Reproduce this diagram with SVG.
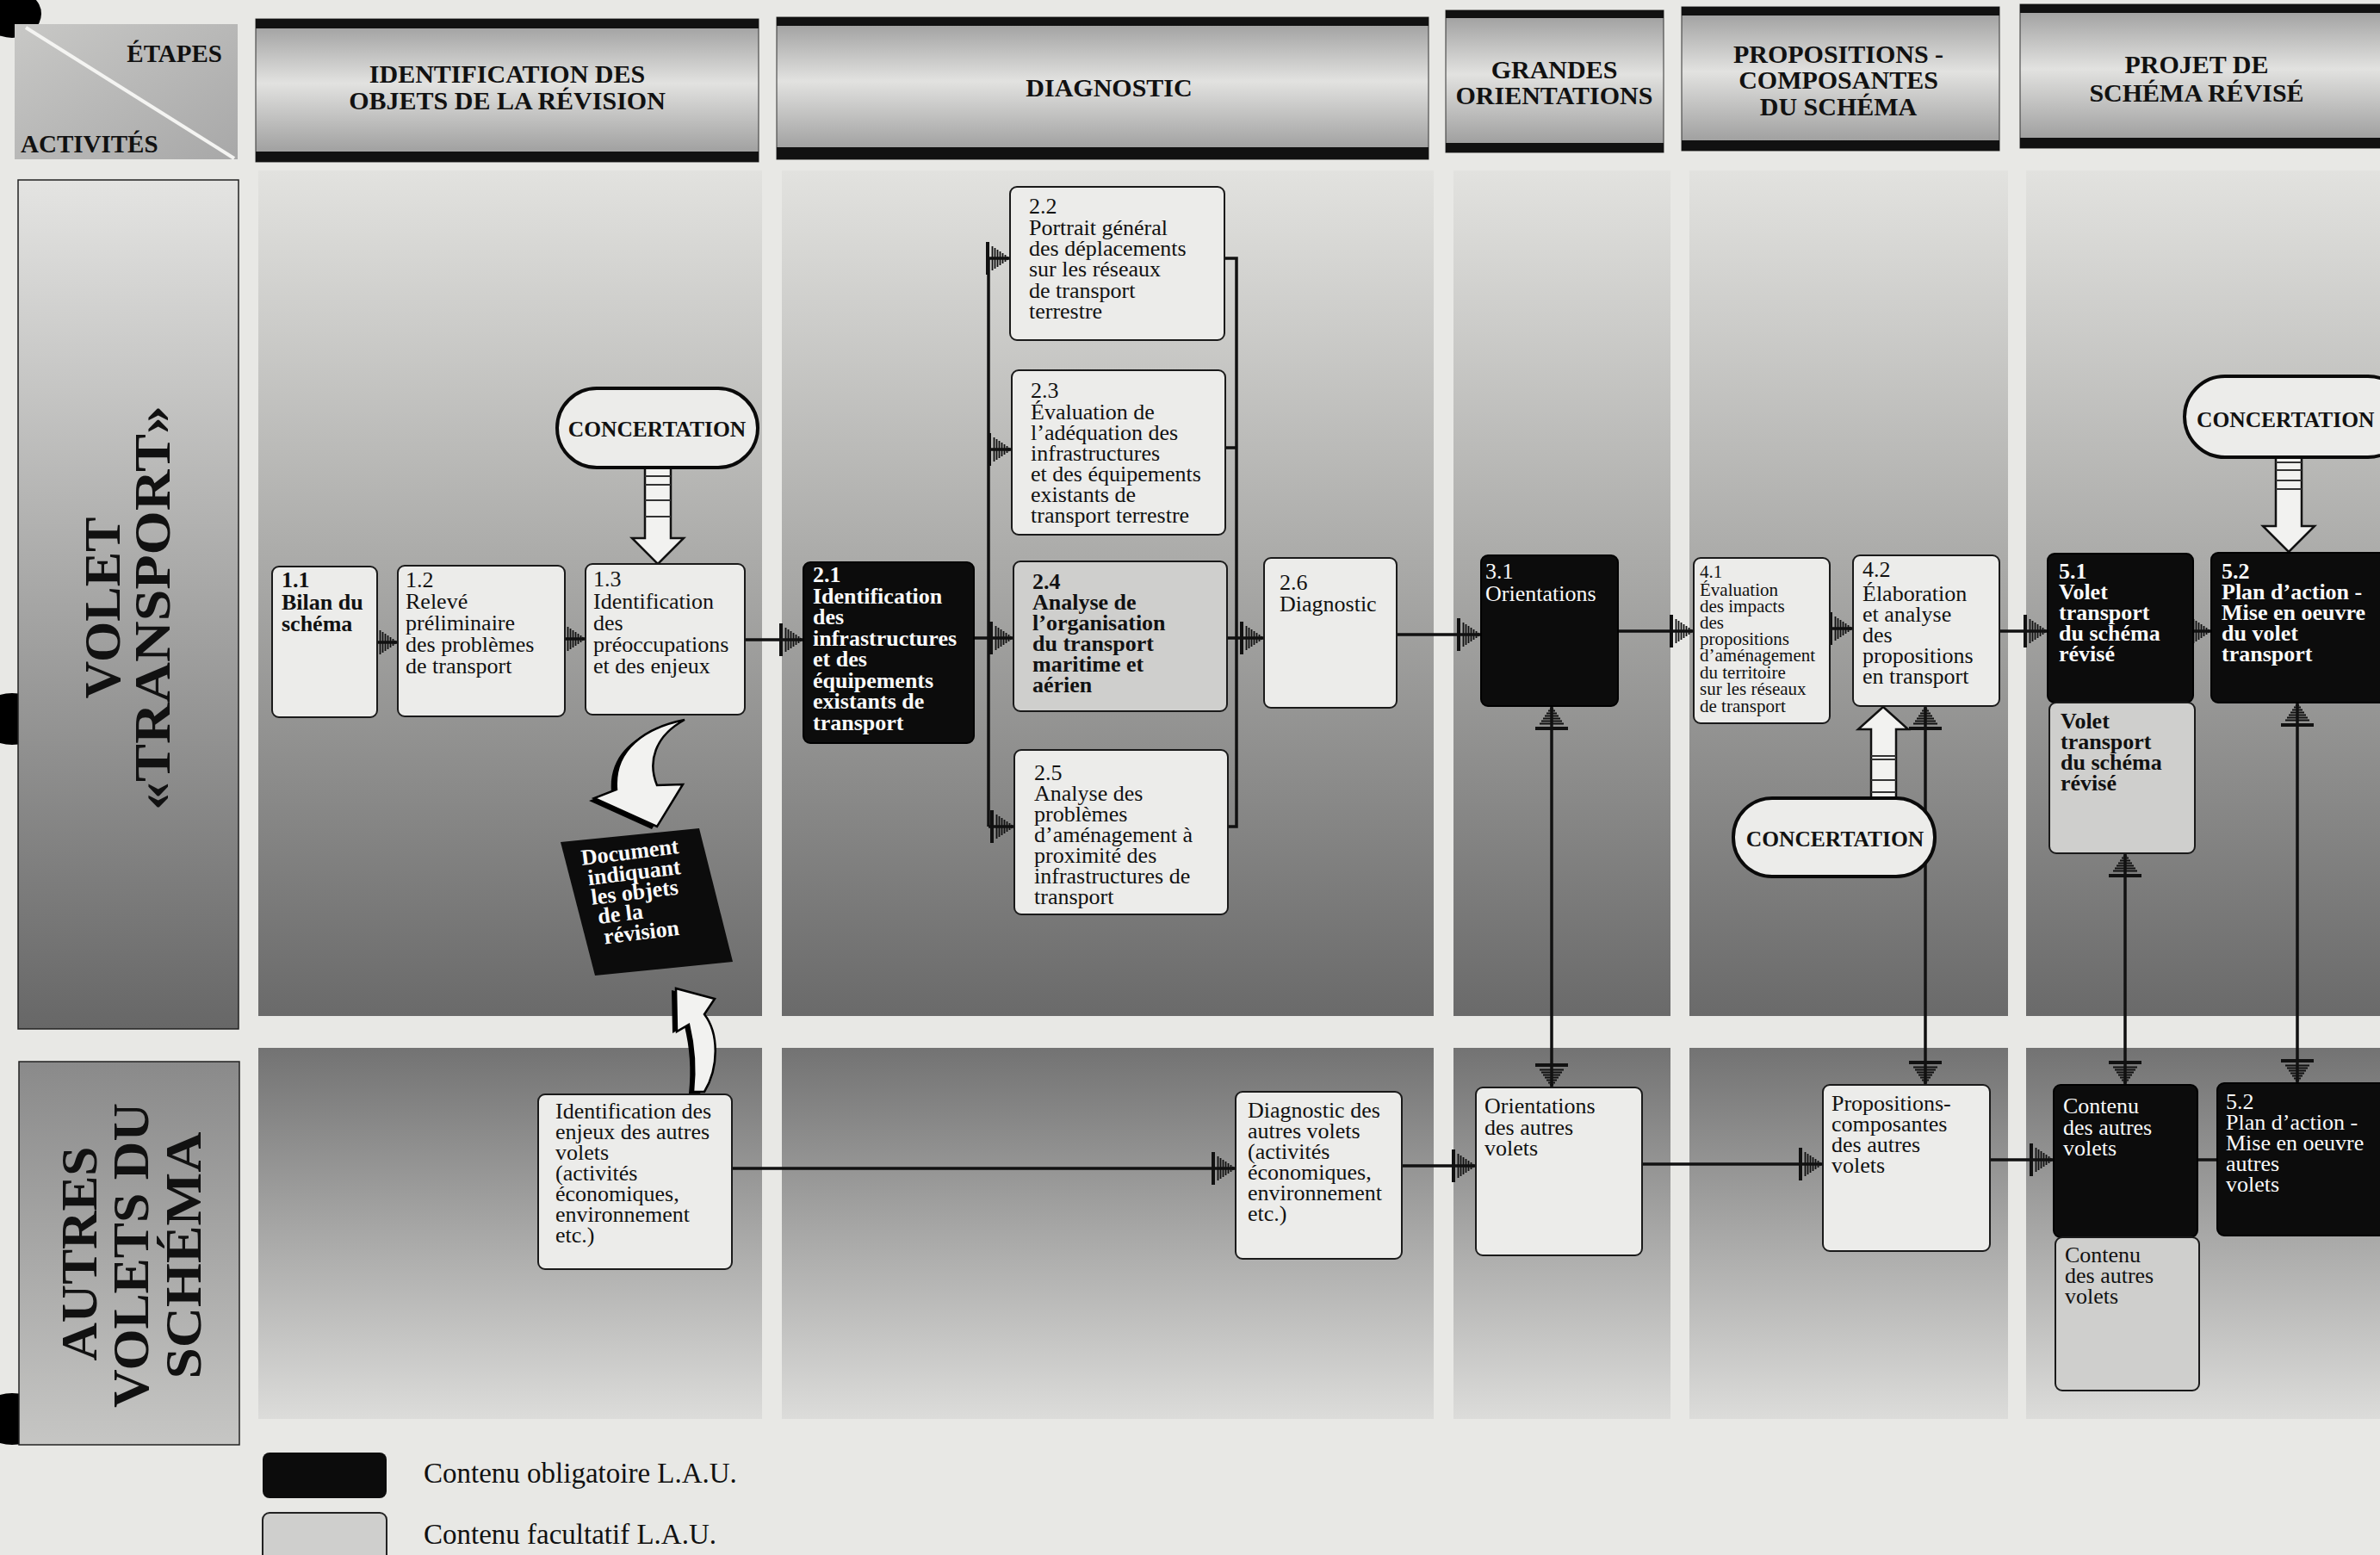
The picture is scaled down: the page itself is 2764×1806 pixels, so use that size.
<svg xmlns="http://www.w3.org/2000/svg" width="2764" height="1806" viewBox="0 0 2764 1806">
<style>
text{font-family:'Liberation Serif','Times New Roman',serif;fill:#111}
.box{fill:#ececea;stroke:#1a1a1a;stroke-width:2}
.fac{fill:#cfcfcd;stroke:#1a1a1a;stroke-width:2}
.blk{fill:#0c0c0c;stroke:#000;stroke-width:2}
.t{font-size:26px}
.s{font-size:21px}
.b{font-weight:bold}
.w{fill:#fafafa}
.hd{font-size:30px;font-weight:bold;text-anchor:middle}
.lab{font-size:60px;font-weight:bold;text-anchor:middle}
.conn{fill:none;stroke:#111;stroke-width:3.5}
.arr{marker-end:url(#m)}
.both{marker-start:url(#m);marker-end:url(#m)}
.pill{fill:#ececea;stroke:#0a0a0a;stroke-width:4}
.ct{font-size:25.5px;font-weight:bold}
.blka{fill:#f2f2f0;stroke:#111;stroke-width:2.5}
.stripe{stroke:#333;stroke-width:2}
.bar{fill:#111}
</style>
<defs>
<linearGradient id="gHdr" x1="0" y1="0" x2="0" y2="1">
<stop offset="0" stop-color="#9a9a9a"/>
<stop offset="0.45" stop-color="#e2e2e0"/>
<stop offset="1" stop-color="#979797"/>
</linearGradient>
<linearGradient id="gTop" x1="0" y1="0" x2="0" y2="1">
<stop offset="0" stop-color="#e2e2df"/>
<stop offset="0.45" stop-color="#acacaa"/>
<stop offset="1" stop-color="#6a6a6a"/>
</linearGradient>
<linearGradient id="gBot" x1="0" y1="0" x2="0" y2="1">
<stop offset="0" stop-color="#737373"/>
<stop offset="1" stop-color="#dcdcda"/>
</linearGradient>
<linearGradient id="gLab1" x1="0" y1="0" x2="0" y2="1">
<stop offset="0" stop-color="#e4e4e2"/>
<stop offset="1" stop-color="#676767"/>
</linearGradient>
<linearGradient id="gLab2" x1="0" y1="0" x2="0" y2="1">
<stop offset="0" stop-color="#8a8a8a"/>
<stop offset="1" stop-color="#c6c6c4"/>
</linearGradient>
<linearGradient id="gEt" x1="0" y1="0" x2="1" y2="1">
<stop offset="0" stop-color="#c8c8c6"/>
<stop offset="1" stop-color="#a8a8a8"/>
</linearGradient>
<marker id="m" viewBox="0 0 28 38" refX="28" refY="19" markerWidth="28" markerHeight="38" markerUnits="userSpaceOnUse" orient="auto-start-reverse">
<rect x="0" y="0" width="4" height="38" fill="#111"/>
<path d="M7.5 5V33M10.5 7V31M13.5 9V29M16.5 11V27M19.5 13V25M22.5 15V23" stroke="#111" stroke-width="1.8"/>
<path d="M24 16.5L28 19L24 21.5Z" fill="#111"/>
</marker>
</defs>

<rect x="0" y="0" width="2764" height="1806" fill="#e8e8e5"/>

<!-- binder holes -->
<g id="holes" fill="#000">
<ellipse cx="14" cy="16" rx="34" ry="28"/>
<ellipse cx="14" cy="835" rx="40" ry="30"/>
<ellipse cx="14" cy="1648" rx="40" ry="30"/>
</g>

<!-- lanes -->
<g id="lanes">
<rect x="300" y="198" width="585" height="982" fill="url(#gTop)"/>
<rect x="908" y="198" width="757" height="982" fill="url(#gTop)"/>
<rect x="1688" y="198" width="252" height="982" fill="url(#gTop)"/>
<rect x="1962" y="198" width="370" height="982" fill="url(#gTop)"/>
<rect x="2353" y="198" width="420" height="982" fill="url(#gTop)"/>
<rect x="300" y="1217" width="585" height="431" fill="url(#gBot)"/>
<rect x="908" y="1217" width="757" height="431" fill="url(#gBot)"/>
<rect x="1688" y="1217" width="252" height="431" fill="url(#gBot)"/>
<rect x="1962" y="1217" width="370" height="431" fill="url(#gBot)"/>
<rect x="2353" y="1217" width="420" height="431" fill="url(#gBot)"/>
</g>

<!-- headers -->
<g id="hdr-etapes">
<rect x="17" y="28" width="259" height="157" fill="url(#gEt)"/>
<line x1="30" y1="32" x2="272" y2="184" stroke="#f4f4f2" stroke-width="4"/>
<text x="258" y="72" font-size="29" font-weight="bold" text-anchor="end">ÉTAPES</text>
<text x="24" y="177" font-size="29" font-weight="bold">ACTIVITÉS</text>
</g>
<g id="hdr-1">
<rect x="297" y="22" width="584" height="166" fill="url(#gHdr)" stroke="#333" stroke-width="1"/>
<rect x="297" y="22" width="584" height="11" class="bar"/>
<rect x="297" y="176" width="584" height="12" class="bar"/>
<text class="hd" x="589" y="96">IDENTIFICATION DES</text>
<text class="hd" x="589" y="127">OBJETS DE LA RÉVISION</text>
</g>
<g id="hdr-2">
<rect x="902" y="20" width="757" height="165" fill="url(#gHdr)" stroke="#333" stroke-width="1"/>
<rect x="902" y="20" width="757" height="10" class="bar"/>
<rect x="902" y="171" width="757" height="14" class="bar"/>
<text class="hd" x="1288" y="112">DIAGNOSTIC</text>
</g>
<g id="hdr-3">
<rect x="1679" y="12" width="253" height="165" fill="url(#gHdr)" stroke="#333" stroke-width="1"/>
<rect x="1679" y="12" width="253" height="9" class="bar"/>
<rect x="1679" y="166" width="253" height="11" class="bar"/>
<text class="hd" x="1805" y="91">GRANDES</text>
<text class="hd" x="1805" y="121">ORIENTATIONS</text>
</g>
<g id="hdr-4">
<rect x="1953" y="8" width="369" height="167" fill="url(#gHdr)" stroke="#333" stroke-width="1"/>
<rect x="1953" y="8" width="369" height="10" class="bar"/>
<rect x="1953" y="163" width="369" height="12" class="bar"/>
<text class="hd" x="2135" y="73">PROPOSITIONS -</text>
<text class="hd" x="2135" y="103">COMPOSANTES</text>
<text class="hd" x="2135" y="134">DU SCHÉMA</text>
</g>
<g id="hdr-5">
<rect x="2346" y="5" width="430" height="167" fill="url(#gHdr)" stroke="#333" stroke-width="1"/>
<rect x="2346" y="5" width="430" height="10" class="bar"/>
<rect x="2346" y="160" width="430" height="12" class="bar"/>
<text class="hd" x="2551" y="85">PROJET DE</text>
<text class="hd" x="2551" y="118">SCHÉMA RÉVISÉ</text>
</g>

<!-- row labels -->
<g id="lab-transport">
<rect x="21" y="209" width="256" height="986" fill="url(#gLab1)" stroke="#222" stroke-width="1.5"/>
<text class="lab" transform="translate(139 706) rotate(-90)" x="0" y="0" textLength="211" lengthAdjust="spacingAndGlyphs">VOLET</text>
<text class="lab" transform="translate(197 706) rotate(-90)" x="0" y="0" textLength="470" lengthAdjust="spacingAndGlyphs">«TRANSPORT»</text>
</g>
<g id="lab-autres">
<rect x="22" y="1233" width="256" height="445" fill="url(#gLab2)" stroke="#222" stroke-width="1.5"/>
<text class="lab" transform="translate(112 1456) rotate(-90)" x="0" y="0" textLength="249" lengthAdjust="spacingAndGlyphs">AUTRES</text>
<text class="lab" transform="translate(172 1458) rotate(-90)" x="0" y="0" textLength="354" lengthAdjust="spacingAndGlyphs">VOLETS DU</text>
<text class="lab" transform="translate(233 1458) rotate(-90)" x="0" y="0" textLength="287" lengthAdjust="spacingAndGlyphs">SCHÉMA</text>
</g>

<!-- connectors -->
<g id="connectors">
<path class="conn arr" d="M438 746H462"/>
<path class="conn arr" d="M656 742H680"/>
<path class="conn arr" d="M865 743H933"/>
<path class="conn arr" d="M1131 741H1177"/>
<path class="conn" d="M1148 300V960"/>
<path class="conn arr" d="M1148 300H1173"/>
<path class="conn arr" d="M1148 522H1175"/>
<path class="conn arr" d="M1148 960H1178"/>
<path class="conn" d="M1422 300H1436V960H1426"/>
<path class="conn" d="M1423 520H1436"/>
<path class="conn arr" d="M1425 741H1468"/>
<path class="conn arr" d="M1622 737H1720"/>
<path class="conn arr" d="M1879 733H1967"/>
<path class="conn arr" d="M2125 730H2152"/>
<path class="conn arr" d="M2322 733H2378"/>
<path class="conn arr" d="M2547 733H2568"/>
<path class="conn both" d="M1802 1263V820"/>
<path class="conn both" d="M2236 1260V820"/>
<path class="conn both" d="M2468 1260V991"/>
<path class="conn both" d="M2668 1258V816"/>
<path class="conn arr" d="M850 1357H1435"/>
<path class="conn arr" d="M1628 1354H1714"/>
<path class="conn arr" d="M1907 1352H2117"/>
<path class="conn arr" d="M2311 1347H2385"/>
<path class="conn" d="M2552 1347H2575"/>
<!-- concertation block arrows -->
<g id="arrow-c1">
<path class="blka" d="M749 541H779V625H794L764 655L734 625H749Z"/>
<path class="stripe" d="M749 553H779M749 563H779M749 581H779M749 600H779"/>
</g>
<g id="arrow-c2">
<path class="blka" d="M2173 929H2202V847H2216L2187 821L2158 847H2173Z"/>
<path class="stripe" d="M2173 878H2202M2173 882H2202M2173 906H2202M2173 920H2202"/>
</g>
<g id="arrow-c3">
<path class="blka" d="M2643 529H2673V611H2688L2658 641L2628 611H2643Z"/>
<path class="stripe" d="M2643 537H2673M2643 546H2673M2643 558H2673M2643 568H2673"/>
</g>
<!-- curved arrows to document -->
<g id="arrow-doc-down">
<path d="M795 836C750 845 712 870 716 917L690 927L763 960L793 911L763 912C752 885 760 855 795 836Z" fill="#000" transform="translate(-6 3)"/>
<path d="M795 836C750 845 712 870 716 917L690 927L763 960L793 911L763 912C752 885 760 855 795 836Z" fill="#f2f2f0" stroke="#000" stroke-width="2.5"/>
</g>
<g id="arrow-doc-up">
<path d="M805 1268C808 1240 806 1215 800 1190L786 1198L785 1148L830 1160L818 1178C835 1200 835 1240 818 1268Z" fill="#000" transform="translate(-5 2)"/>
<path d="M805 1268C808 1240 806 1215 800 1190L786 1198L785 1148L830 1160L818 1178C835 1200 835 1240 818 1268Z" fill="#f2f2f0" stroke="#000" stroke-width="2.5"/>
</g>
</g>

<!-- nodes: row 1 -->
<g id="n1-1"><rect class="box" x="316" y="658" width="122" height="175" rx="8"/>
<text class="t b"><tspan x="327" y="682">1.1</tspan><tspan x="327" y="708">Bilan du</tspan><tspan x="327" y="733">schéma</tspan></text></g>
<g id="n1-2"><rect class="box" x="462" y="657" width="194" height="175" rx="8"/>
<text class="t"><tspan x="471" y="682">1.2</tspan><tspan x="471" y="707">Relevé</tspan><tspan x="471" y="732">préliminaire</tspan><tspan x="471" y="757">des problèmes</tspan><tspan x="471" y="782">de transport</tspan></text></g>
<g id="n1-3"><rect class="box" x="680" y="655" width="185" height="175" rx="8"/>
<text class="t"><tspan x="689" y="681">1.3</tspan><tspan x="689" y="707">Identification</tspan><tspan x="689" y="732">des</tspan><tspan x="689" y="757">préoccupations</tspan><tspan x="689" y="782">et des enjeux</tspan></text></g>
<g id="n2-1"><rect class="blk" x="933" y="653" width="198" height="210" rx="8"/>
<text class="t b w"><tspan x="944" y="676">2.1</tspan><tspan x="944" y="701">Identification</tspan><tspan x="944" y="725">des</tspan><tspan x="944" y="750">infrastructures</tspan><tspan x="944" y="774">et des</tspan><tspan x="944" y="799">équipements</tspan><tspan x="944" y="823">existants de</tspan><tspan x="944" y="848">transport</tspan></text></g>
<g id="n2-2"><rect class="box" x="1173" y="217" width="249" height="178" rx="8"/>
<text class="t"><tspan x="1195" y="248">2.2</tspan><tspan x="1195" y="273">Portrait général</tspan><tspan x="1195" y="297">des déplacements</tspan><tspan x="1195" y="321">sur les réseaux</tspan><tspan x="1195" y="346">de transport</tspan><tspan x="1195" y="370">terrestre</tspan></text></g>
<g id="n2-3"><rect class="box" x="1175" y="430" width="248" height="191" rx="8"/>
<text class="t"><tspan x="1197" y="462">2.3</tspan><tspan x="1197" y="487">Évaluation de</tspan><tspan x="1197" y="511">l’adéquation des</tspan><tspan x="1197" y="535">infrastructures</tspan><tspan x="1197" y="559">et des équipements</tspan><tspan x="1197" y="583">existants de</tspan><tspan x="1197" y="607">transport terrestre</tspan></text></g>
<g id="n2-4"><rect class="fac" x="1177" y="652" width="248" height="174" rx="8"/>
<text class="t b"><tspan x="1199" y="684">2.4</tspan><tspan x="1199" y="708">Analyse de</tspan><tspan x="1199" y="732">l’organisation</tspan><tspan x="1199" y="756">du transport</tspan><tspan x="1199" y="780">maritime et</tspan><tspan x="1199" y="804">aérien</tspan></text></g>
<g id="n2-5"><rect class="box" x="1178" y="871" width="248" height="191" rx="8"/>
<text class="t"><tspan x="1201" y="906">2.5</tspan><tspan x="1201" y="930">Analyse des</tspan><tspan x="1201" y="954">problèmes</tspan><tspan x="1201" y="978">d’aménagement à</tspan><tspan x="1201" y="1002">proximité des</tspan><tspan x="1201" y="1026">infrastructures de</tspan><tspan x="1201" y="1050">transport</tspan></text></g>
<g id="n2-6"><rect class="box" x="1468" y="648" width="154" height="174" rx="8"/>
<text class="t"><tspan x="1486" y="685">2.6</tspan><tspan x="1486" y="710">Diagnostic</tspan></text></g>
<g id="n3-1"><rect class="blk" x="1720" y="645" width="159" height="175" rx="8"/>
<text class="t w" font-size="27"><tspan x="1725" y="672">3.1</tspan><tspan x="1725" y="698">Orientations</tspan></text></g>
<g id="n4-1"><rect class="box" x="1967" y="648" width="158" height="192" rx="8"/>
<text class="s"><tspan x="1974" y="671">4.1</tspan><tspan x="1974" y="692">Évaluation</tspan><tspan x="1974" y="711">des impacts</tspan><tspan x="1974" y="730">des</tspan><tspan x="1974" y="749">propositions</tspan><tspan x="1974" y="768">d’aménagement</tspan><tspan x="1974" y="788">du territoire</tspan><tspan x="1974" y="807">sur les réseaux</tspan><tspan x="1974" y="827">de transport</tspan></text></g>
<g id="n4-2"><rect class="box" x="2152" y="645" width="170" height="175" rx="8"/>
<text class="t" font-size="25"><tspan x="2163" y="670">4.2</tspan><tspan x="2163" y="698">Élaboration</tspan><tspan x="2163" y="722">et analyse</tspan><tspan x="2163" y="746">des</tspan><tspan x="2163" y="770">propositions</tspan><tspan x="2163" y="794">en transport</tspan></text></g>
<g id="n5-1"><rect class="blk" x="2378" y="643" width="169" height="173" rx="8"/>
<text class="t b w" font-size="25"><tspan x="2391" y="672">5.1</tspan><tspan x="2391" y="696">Volet</tspan><tspan x="2391" y="720">transport</tspan><tspan x="2391" y="744">du schéma</tspan><tspan x="2391" y="768">révisé</tspan></text></g>
<g id="n5-1b"><rect class="fac" x="2380" y="816" width="169" height="175" rx="8"/>
<text class="t b" font-size="25"><tspan x="2393" y="846">Volet</tspan><tspan x="2393" y="870">transport</tspan><tspan x="2393" y="894">du schéma</tspan><tspan x="2393" y="918">révisé</tspan></text></g>
<g id="n5-2"><rect class="blk" x="2568" y="642" width="230" height="174" rx="8"/>
<text class="t b w" font-size="25"><tspan x="2580" y="672">5.2</tspan><tspan x="2580" y="696">Plan d’action -</tspan><tspan x="2580" y="720">Mise en oeuvre</tspan><tspan x="2580" y="744">du volet</tspan><tspan x="2580" y="768">transport</tspan></text></g>

<!-- concertation nodes -->
<g id="concertation-1"><rect class="pill" x="647" y="451" width="233" height="92" rx="46"/>
<text class="ct" x="763" y="507" text-anchor="middle">CONCERTATION</text></g>
<g id="concertation-2"><rect class="pill" x="2013" y="927" width="234" height="91" rx="45"/>
<text class="ct" x="2131" y="983" text-anchor="middle">CONCERTATION</text></g>
<g id="concertation-3"><rect class="pill" x="2537" y="437" width="260" height="94" rx="47"/>
<text class="ct" x="2551" y="496">CONCERTATION</text></g>

<!-- document -->
<g id="document">
<polygon points="651,978 812,962 851,1117 691,1133" fill="#0c0c0c"/>
<text class="b w" font-size="26" transform="rotate(-7 760 1050)"><tspan x="682" y="995">Document</tspan><tspan x="687" y="1019">indiquant</tspan><tspan x="688" y="1042">les objets</tspan><tspan x="693" y="1065">de la</tspan><tspan x="697" y="1089">révision</tspan></text>
</g>

<!-- nodes: row 2 -->
<g id="b-identification"><rect class="box" x="625" y="1271" width="225" height="203" rx="8"/>
<text class="t"><tspan x="645" y="1299">Identification des</tspan><tspan x="645" y="1323">enjeux des autres</tspan><tspan x="645" y="1347">volets</tspan><tspan x="645" y="1371">(activités</tspan><tspan x="645" y="1395">économiques,</tspan><tspan x="645" y="1419">environnement</tspan><tspan x="645" y="1443">etc.)</tspan></text></g>
<g id="b-diagnostic"><rect class="box" x="1435" y="1268" width="193" height="194" rx="8"/>
<text class="t"><tspan x="1449" y="1298">Diagnostic des</tspan><tspan x="1449" y="1322">autres volets</tspan><tspan x="1449" y="1346">(activités</tspan><tspan x="1449" y="1370">économiques,</tspan><tspan x="1449" y="1394">environnement</tspan><tspan x="1449" y="1418">etc.)</tspan></text></g>
<g id="b-orientations"><rect class="box" x="1714" y="1263" width="193" height="195" rx="8"/>
<text class="t" font-size="27"><tspan x="1724" y="1293">Orientations</tspan><tspan x="1724" y="1318">des autres</tspan><tspan x="1724" y="1342">volets</tspan></text></g>
<g id="b-propositions"><rect class="box" x="2117" y="1260" width="194" height="193" rx="8"/>
<text class="t" font-size="27"><tspan x="2127" y="1290">Propositions-</tspan><tspan x="2127" y="1314">composantes</tspan><tspan x="2127" y="1338">des autres</tspan><tspan x="2127" y="1362">volets</tspan></text></g>
<g id="b-contenu"><rect class="blk" x="2385" y="1260" width="167" height="177" rx="8"/>
<text class="t w" font-size="27"><tspan x="2396" y="1293">Contenu</tspan><tspan x="2396" y="1318">des autres</tspan><tspan x="2396" y="1342">volets</tspan></text></g>
<g id="b-contenu-fac"><rect class="fac" x="2387" y="1437" width="167" height="178" rx="8"/>
<text class="t" font-size="27"><tspan x="2398" y="1466">Contenu</tspan><tspan x="2398" y="1490">des autres</tspan><tspan x="2398" y="1514">volets</tspan></text></g>
<g id="b-5-2"><rect class="blk" x="2575" y="1258" width="225" height="177" rx="8"/>
<text class="t w" font-size="27"><tspan x="2585" y="1288">5.2</tspan><tspan x="2585" y="1312">Plan d’action -</tspan><tspan x="2585" y="1336">Mise en oeuvre</tspan><tspan x="2585" y="1360">autres</tspan><tspan x="2585" y="1384">volets</tspan></text></g>

<!-- legend -->
<g id="legend">
<rect x="305" y="1687" width="144" height="53" rx="8" fill="#0c0c0c"/>
<text x="492" y="1722" font-size="33">Contenu obligatoire L.A.U.</text>
<rect x="305" y="1757" width="144" height="60" rx="8" fill="#cfcfcd" stroke="#222" stroke-width="2"/>
<text x="492" y="1793" font-size="33">Contenu facultatif L.A.U.</text>
</g>
</svg>
